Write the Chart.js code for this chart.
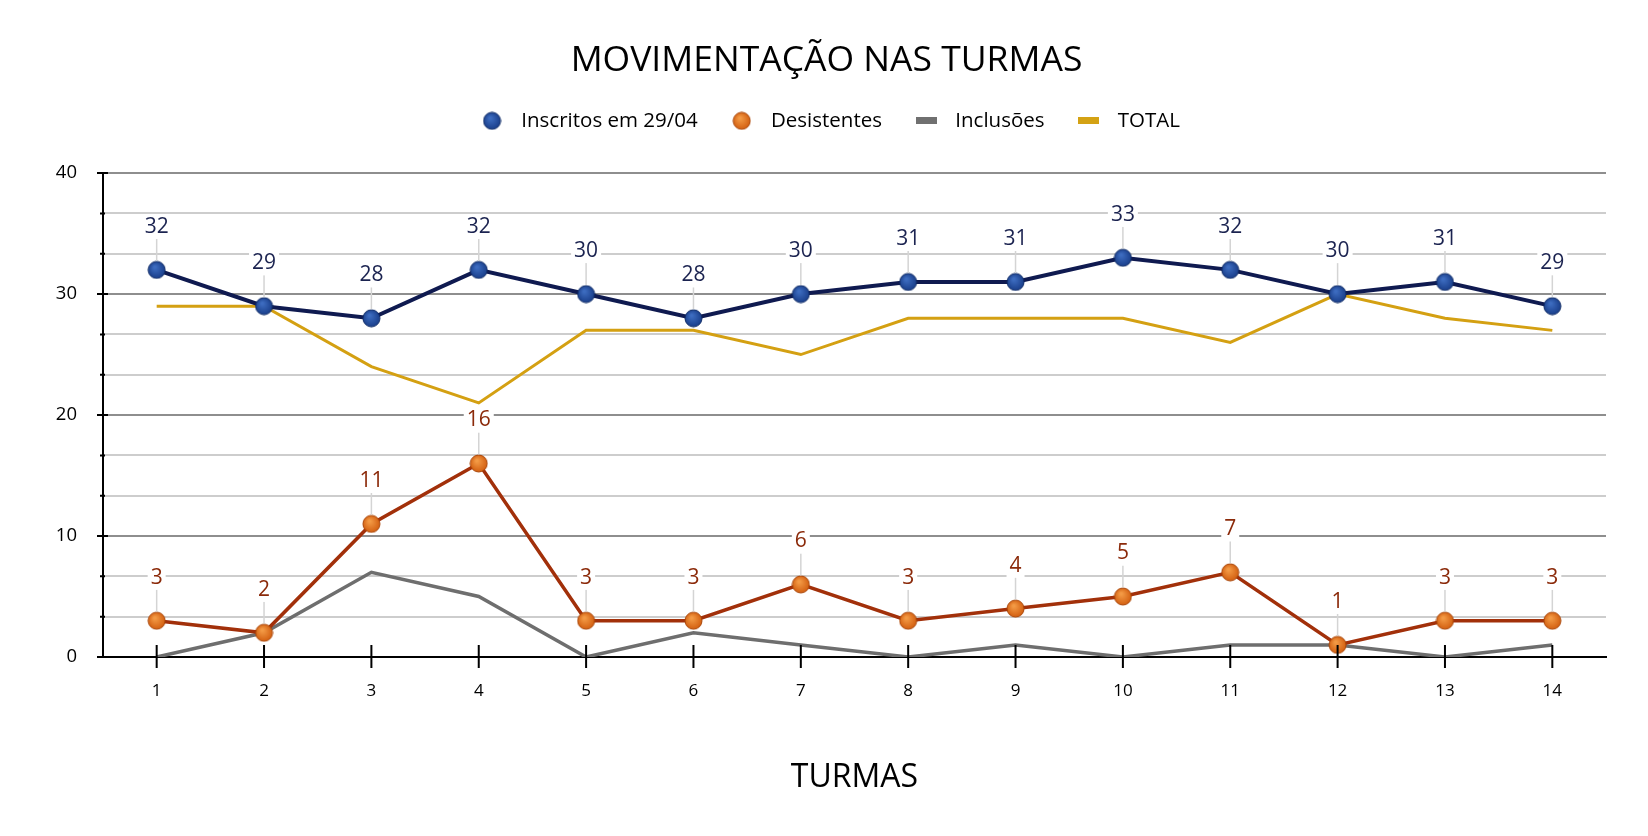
<!DOCTYPE html>
<html>
<head>
<meta charset="utf-8">
<script src="https://cdn.jsdelivr.net/npm/chart.js@4.4.1/dist/chart.umd.min.js"></script>
<style>
  html, body { margin: 0; padding: 0; background: #fff; }
  #wrap { width: 1648px; height: 836px; }
</style>
</head>
<body>
<div id="wrap"><canvas id="chart"></canvas></div>
<script>
// categorias (turmas) e séries
const turmas = ['1', '2', '3', '4', '5', '6', '7', '8', '9', '10', '11', '12', '13', '14'];
const inscritos = [32, 29, 28, 32, 30, 28, 30, 31, 31, 33, 32, 30, 31, 29];
const desistentes = [3, 2, 11, 16, 3, 3, 6, 3, 4, 5, 7, 1, 3, 3];
const inclusoes = [0, 2, 7, 5, 0, 2, 1, 0, 1, 0, 1, 1, 0, 1];
const total = [29, 29, 24, 21, 27, 27, 25, 28, 28, 28, 26, 30, 28, 27];
const yMajorTicks = [0, 10, 20, 30, 40];
const minorPerMajor = 3;

const FONT = "'Open Sans', 'Noto Sans', sans-serif";

function makeDot(inner, outer, edge, size) {
    const c = document.createElement('canvas');
    c.width = size; c.height = size;
    const g = c.getContext('2d');
    const r = size / 2;
    const grad = g.createRadialGradient(r * 0.8, r * 0.7, 1, r, r, r);
    grad.addColorStop(0, inner);
    grad.addColorStop(1, outer);
    g.beginPath();
    g.arc(r, r, r - 1, 0, Math.PI * 2);
    g.fillStyle = grad;
    g.fill();
    g.lineWidth = 1;
    g.strokeStyle = edge;
    g.stroke();
    return c;
}

function makeBar(color, w, h) {
    const c = document.createElement('canvas');
    c.width = w; c.height = h;
    const g = c.getContext('2d');
    g.fillStyle = color;
    g.fillRect(0, 0, w, h);
    return c;
}

const blueDot = makeDot('#3d6cc0', '#163a85', '#0f2b66', 19);
const orangeDot = makeDot('#f39a45', '#d05a0c', '#a84406', 19);
const grayBar = makeBar('#707070', 21, 7);
const goldBar = makeBar('#d4a214', 21, 7);

// cores dos rótulos de dados (só as duas séries com marcadores)
const labelColors = { 0: '#1b2350', 1: '#8b2a0a' };

function isMajor(v) {
    return Math.abs(v / 10 - Math.round(v / 10)) < 1e-6;
}

const dataLabels = {
    id: 'dataLabels',
    afterDatasetsDraw(chart) {
        const ctx = chart.ctx;
        ctx.save();
        ctx.font = '21px ' + FONT;
        ctx.textAlign = 'center';
        ctx.textBaseline = 'middle';
        Object.keys(labelColors).forEach(i => {
            const meta = chart.getDatasetMeta(+i);
            const values = chart.data.datasets[i].data;
            meta.data.forEach((pt, j) => {
                const txt = String(values[j]);
                const ly = pt.y - 43;
                ctx.strokeStyle = '#d4d4d4';
                ctx.lineWidth = 1.5;
                ctx.beginPath();
                ctx.moveTo(pt.x, pt.y - 9);
                ctx.lineTo(pt.x, ly + 12);
                ctx.stroke();
                const w = ctx.measureText(txt).width + 6;
                ctx.fillStyle = '#fff';
                ctx.fillRect(pt.x - w / 2, ly - 12, w, 24);
                ctx.fillStyle = labelColors[i];
                ctx.fillText(txt, pt.x, ly);
            });
        });
        ctx.restore();
    }
};

// marcas de escala que cruzam os eixos
const crossTicks = {
    id: 'crossTicks',
    afterDraw(chart) {
        const ctx = chart.ctx;
        const xs = chart.scales.x, ys = chart.scales.y;
        const area = chart.chartArea;
        ctx.save();
        ctx.strokeStyle = '#000';
        ctx.lineWidth = 2;
        ctx.beginPath();
        xs.ticks.forEach((t, i) => {
            const px = xs.getPixelForTick(i);
            ctx.moveTo(px, area.bottom - 12);
            ctx.lineTo(px, area.bottom + 11);
        });
        ys.ticks.forEach(t => {
            const py = ys.getPixelForValue(t.value);
            const major = isMajor(t.value);
            ctx.moveTo(area.left - (major ? 6 : 3), py);
            ctx.lineTo(area.left + (major ? 5 : 2), py);
        });
        ctx.stroke();
        ctx.restore();
    }
};

// espaço extra abaixo da legenda
const legendSpace = {
    id: 'legendSpace',
    afterInit(chart) {
        const lg = chart.legend;
        if (!lg) return;
        const orig = lg.fit.bind(lg);
        lg.fit = function () {
            orig();
            this.height += 32;
        };
    }
};

new Chart(document.getElementById('chart'), {
    type: 'line',
    data: {
        labels: turmas,
        datasets: [{
            label: 'Inscritos em 29/04',
            data: inscritos,
            borderColor: '#0f1a50',
            borderWidth: 4,
            pointStyle: blueDot,
            pointRadius: 8,
            pointHoverRadius: 8,
            tension: 0,
            order: 0
        }, {
            label: 'Desistentes',
            data: desistentes,
            borderColor: '#a2300a',
            borderWidth: 3.5,
            pointStyle: orangeDot,
            pointRadius: 8,
            pointHoverRadius: 8,
            tension: 0,
            order: 1
        }, {
            label: 'Inclusões',
            data: inclusoes,
            borderColor: '#6e6e6e',
            borderWidth: 3.5,
            pointStyle: grayBar,
            pointRadius: 0,
            pointHoverRadius: 0,
            tension: 0,
            order: 2
        }, {
            label: 'TOTAL',
            data: total,
            borderColor: '#d4a012',
            borderWidth: 3,
            pointStyle: goldBar,
            pointRadius: 0,
            pointHoverRadius: 0,
            tension: 0,
            order: 3
        }]
    },
    options: {
        responsive: true,
        maintainAspectRatio: false,
        animation: false,
        layout: {
            padding: { left: 47, right: 42, top: 0, bottom: 39 }
        },
        scales: {
            x: {
                offset: true,
                afterFit(scale) {
                    scale.height = 140;
                },
                grid: {
                    display: true,
                    drawOnChartArea: false,
                    drawTicks: false
                },
                border: { display: true, color: '#000', width: 2 },
                ticks: {
                    color: '#000',
                    font: { family: FONT, size: 17 },
                    padding: 24
                },
                title: {
                    display: true,
                    text: 'TURMAS',
                    color: '#000',
                    font: { family: FONT, size: 32 },
                    padding: { top: 0, bottom: 0 }
                }
            },
            y: {
                min: 0,
                max: 40,
                afterBuildTicks(scale) {
                    const ticks = [];
                    for (let k = 0; k < yMajorTicks.length; k++) {
                        ticks.push({ value: yMajorTicks[k] });
                        if (k < yMajorTicks.length - 1) {
                            const step = (yMajorTicks[k + 1] - yMajorTicks[k]) / minorPerMajor;
                            for (let m = 1; m < minorPerMajor; m++) {
                                ticks.push({ value: yMajorTicks[k] + step * m });
                            }
                        }
                    }
                    scale.ticks = ticks;
                },
                afterFit(scale) {
                    scale.width = 56;
                },
                grid: {
                    color: ctx => isMajor(ctx.tick.value) ? '#8e8e8e' : '#cdcdcd',
                    lineWidth: 2,
                    drawTicks: false
                },
                border: { display: true, color: '#000', width: 2 },
                ticks: {
                    color: '#000',
                    font: { family: FONT, size: 18.5 },
                    padding: 26,
                    callback: v => isMajor(v) ? Math.round(v) : ''
                }
            }
        },
        plugins: {
            title: {
                display: true,
                text: 'MOVIMENTAÇÃO NAS TURMAS',
                color: '#000',
                font: { family: FONT, size: 35.5, weight: 'normal' },
                padding: { top: 40, bottom: 3 }
            },
            legend: {
                display: true,
                position: 'top',
                labels: {
                    usePointStyle: true,
                    pointStyleWidth: 38,
                    boxHeight: 16,
                    padding: 25,
                    color: '#000',
                    font: { family: FONT, size: 20.5 }
                }
            },
            tooltip: {
                mode: 'index',
                intersect: false
            }
        }
    },
    plugins: [dataLabels, crossTicks, legendSpace]
});
</script>
</body>
</html>
